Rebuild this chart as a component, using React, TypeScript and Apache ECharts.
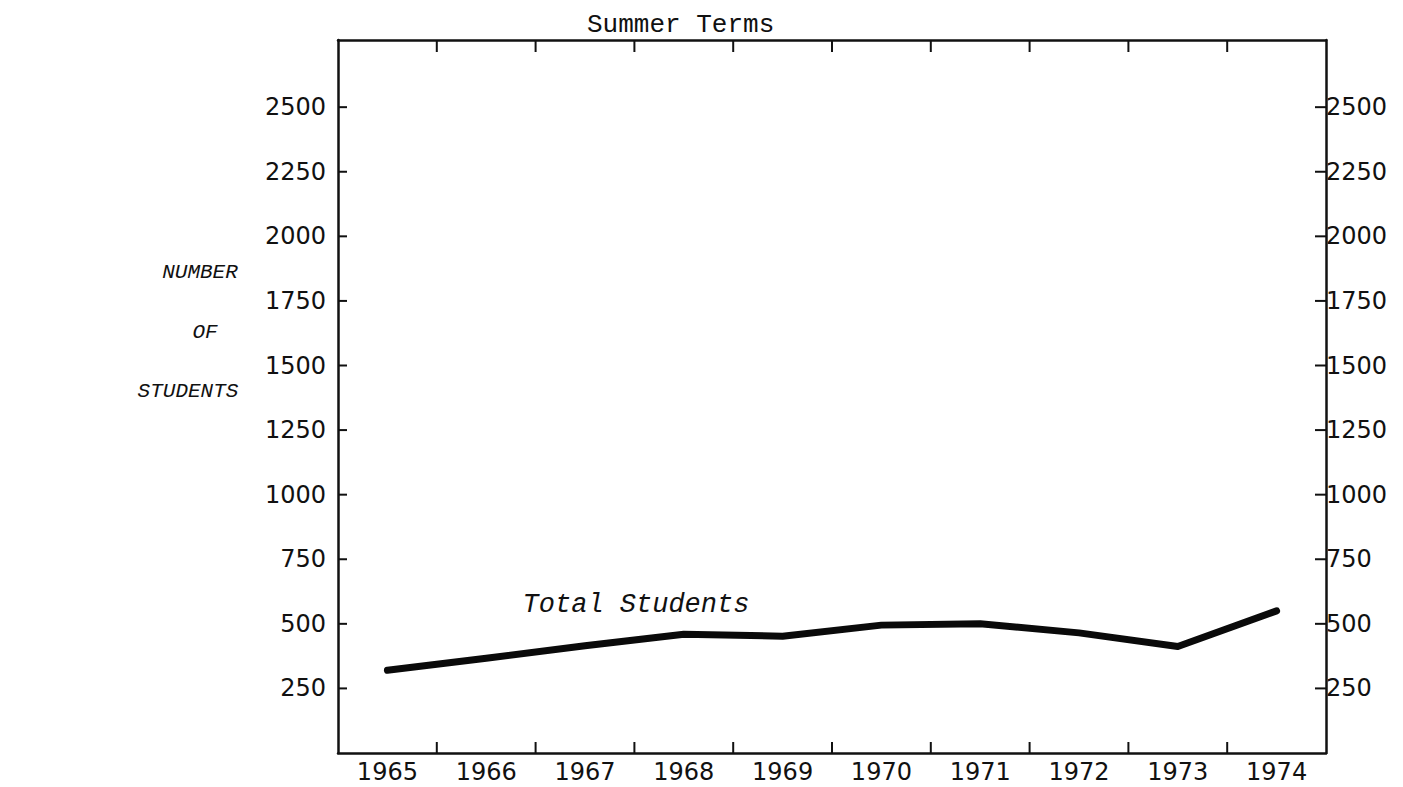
import React, { useEffect, useRef } from "react";
import * as echarts from "echarts";

const years = ["1965", "1966", "1967", "1968", "1969", "1970", "1971", "1972", "1973", "1974"];
const totalStudents = [320, 367, 415, 460, 452, 495, 500, 465, 412, 550];
const yTickLabels = [250, 500, 750, 1000, 1250, 1500, 1750, 2000, 2250, 2500];
const yAxisTitleLines = ["NUMBER", "OF", "STUDENTS"];
const chartTitle = "Summer Terms";
const seriesLabel = "Total Students";

const INK = "#111111";

export default function App() {
  const ref = useRef<HTMLDivElement>(null);

  useEffect(() => {
    if (!ref.current) return;
    const chart = echarts.init(ref.current, undefined, { renderer: "svg" });

    const fmt = (v: number) => (yTickLabels.includes(v) ? String(v) : "");
    const axisLine = { show: true, onZero: false, lineStyle: { color: INK, width: 2.5 } };
    const tickStyle = { stroke: INK, lineWidth: 2 };
    const labelFont = { fontFamily: "DejaVu Sans", fontSize: 24, color: INK };

    const xMain = (position: string, showLabel: boolean) => ({
      type: "category",
      data: years,
      position,
      boundaryGap: true,
      axisLine,
      axisTick: { show: false },
      axisLabel: showLabel ? { margin: 7, ...labelFont } : { show: false },
      splitLine: { show: false },
    });
    const yMain = (position: string, margin: number) => ({
      type: "value",
      position,
      min: 0,
      max: 2760,
      interval: 250,
      axisLine,
      axisTick: { show: false },
      axisLabel: { margin, formatter: fmt, showMinLabel: false, showMaxLabel: false, ...labelFont },
      splitLine: { show: false },
    });

    const italic = (text: string, x: number, y: number, size: number) => ({
      type: "text",
      x,
      y,
      style: {
        text,
        fontFamily: "Liberation Mono",
        fontSize: size,
        fontStyle: "italic",
        fill: INK,
        align: "center",
        verticalAlign: "middle",
      },
    });

    // Inward-pointing ticks on the category boundaries (top and bottom frame)
    const xTickRender = (params: any, api: any) => {
      if (params.dataIndex === 0) return null;
      const rect = params.coordSys;
      const c = api.coord([api.value(0), 0]);
      const bw = api.size([1, 0])[0];
      const x = c[0] - bw / 2;
      const yb = rect.y + rect.height;
      return {
        type: "group",
        children: [
          { type: "line", shape: { x1: x, y1: yb, x2: x, y2: yb - 11 }, style: tickStyle },
          { type: "line", shape: { x1: x, y1: rect.y, x2: x, y2: rect.y + 12 }, style: tickStyle },
        ],
      };
    };
    // Inward-pointing ticks on the value axis (left and right frame)
    const yTickRender = (params: any, api: any) => {
      const rect = params.coordSys;
      const y = api.coord([0, api.value(1)])[1];
      const xr = rect.x + rect.width;
      return {
        type: "group",
        children: [
          { type: "line", shape: { x1: rect.x, y1: y, x2: rect.x + 9, y2: y }, style: tickStyle },
          { type: "line", shape: { x1: xr, y1: y, x2: xr - 11, y2: y }, style: tickStyle },
        ],
      };
    };

    const option: any = {
      animation: false,
      backgroundColor: "#ffffff",
      title: {
        text: chartTitle,
        left: 582,
        top: 7,
        textStyle: {
          fontFamily: "Liberation Mono",
          fontSize: 26,
          fontWeight: "normal",
          color: INK,
        },
      },
      grid: { left: 338, right: 1403 - 1326, top: 40, bottom: 787 - 753, containLabel: false },
      xAxis: [xMain("bottom", true), xMain("top", false)],
      yAxis: [yMain("left", 12), yMain("right", 0)],
      series: [
        {
          type: "custom",
          name: "xTicks",
          silent: true,
          xAxisIndex: 0,
          yAxisIndex: 0,
          data: years.map((yr) => [yr, 0]),
          renderItem: xTickRender,
          clip: false,
        },
        {
          type: "custom",
          name: "yTicks",
          silent: true,
          xAxisIndex: 0,
          yAxisIndex: 0,
          data: yTickLabels.map((v) => [years[0], v]),
          renderItem: yTickRender,
          clip: false,
        },
        {
          type: "line",
          name: seriesLabel,
          data: totalStudents,
          xAxisIndex: 0,
          yAxisIndex: 0,
          symbol: "none",
          lineStyle: { color: "#0a0a0a", width: 7, join: "round", cap: "round" },
        },
      ],
      graphic: [
        italic(seriesLabel, 636, 605, 27),
        italic(yAxisTitleLines[0], 200, 272, 21),
        italic(yAxisTitleLines[1], 205, 332, 21),
        italic(yAxisTitleLines[2], 188, 391, 21),
      ],
    };

    chart.setOption(option);
    return () => chart.dispose();
  }, []);

  return (
    <div
      ref={ref}
      style={{ position: "fixed", left: 0, top: 0, width: 1403, height: 787, background: "#fff" }}
    />
  );
}
